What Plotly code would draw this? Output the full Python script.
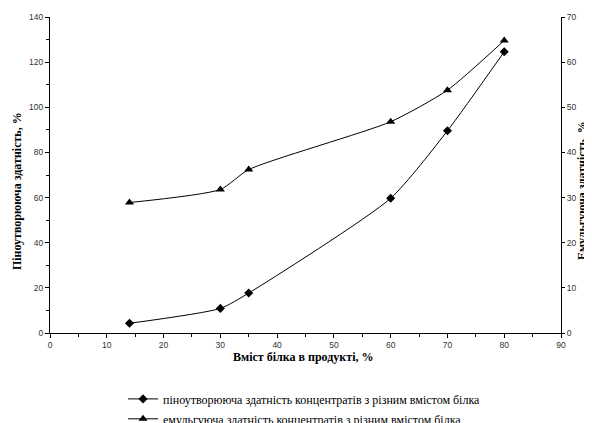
import plotly.graph_objects as go

protein = [14, 30, 35, 60, 70, 80]
foaming = [4.3, 10.9, 17.7, 59.7, 89.6, 124.6]
emulsifying = [28.9, 31.8, 36.2, 46.8, 53.8, 64.8]

name_foam = "піноутворююча здатність концентратів з різним вмістом білка"
name_emul = "емульгуюча здатність концентратів з різним вмістом білка"
title_x = "Вміст білка в продукті, %"
title_y1 = "Піноутворююча здатність, %"
title_y2 = "Емульгуюча здатність, %"

fig = go.Figure()
fig.add_trace(go.Scatter(
    x=protein, y=foaming, name=name_foam, mode="lines+markers",
    line=dict(color="black", width=1, shape="spline", smoothing=0.6),
    marker=dict(symbol="diamond", size=7, color="black"),
    yaxis="y", legend="legend"))
fig.add_trace(go.Scatter(
    x=protein, y=emulsifying, name=name_emul, mode="lines+markers",
    line=dict(color="black", width=1, shape="spline", smoothing=0.6),
    marker=dict(symbol="triangle-up", size=8, color="black"),
    yaxis="y2", legend="legend2"))

serif = "Liberation Serif, Times New Roman, serif"
tickfont = dict(family="Liberation Sans, Arial, sans-serif", size=8.5, color="#333")
titlefont = dict(family=serif, size=12, color="black")
legendfont = dict(family=serif, size=12, color="black")

# page body has an 8px margin, so the figure is 8px smaller and margins compensate
fig.update_layout(
    width=584, height=415,
    margin=dict(l=42, r=31, t=9, b=90, autoexpand=False),
    paper_bgcolor="white", plot_bgcolor="white",
    showlegend=True,
    legend=dict(x=0.197, xanchor="left", xref="container",
                y=0.093, yanchor="top", yref="container",
                font=legendfont, itemwidth=30, bgcolor="rgba(0,0,0,0)"),
    legend2=dict(x=0.197, xanchor="left", xref="container",
                 y=0.045, yanchor="top", yref="container",
                 font=legendfont, itemwidth=30, bgcolor="rgba(0,0,0,0)"),
    xaxis=dict(range=[0, 90], dtick=10, tick0=0, showgrid=False, zeroline=False,
               showline=True, linecolor="black", linewidth=1, automargin=False,
               ticks="outside", ticklen=4, tickcolor="black", tickfont=tickfont,
               minor=dict(ticks="outside", ticklen=3, dtick=5, tickcolor="black", showgrid=False)),
    yaxis=dict(range=[0, 140], dtick=20, showgrid=False, zeroline=False,
               showline=True, linecolor="black", linewidth=1, automargin=False,
               ticks="outside", ticklen=4, tickcolor="black", tickfont=tickfont,
               minor=dict(ticks="outside", ticklen=3, dtick=10, tickcolor="black", showgrid=False)),
    yaxis2=dict(range=[0, 70], dtick=10, overlaying="y", side="right", anchor="x",
                showgrid=False, zeroline=False, automargin=False,
                showline=True, linecolor="black", linewidth=1,
                ticks="outside", ticklen=3, tickcolor="black", tickfont=tickfont),
    annotations=[
        dict(text="<b>" + title_x + "</b>", font=titlefont,
             xref="paper", yref="paper", x=0.495, y=0, yshift=-24,
             showarrow=False, xanchor="center", yanchor="middle"),
        dict(text="<b>" + title_y1 + "</b>", font=titlefont,
             xref="paper", yref="paper", x=0, xshift=-33, y=0.449,
             textangle=-90, showarrow=False, xanchor="center", yanchor="middle"),
        dict(text="<b>" + title_y2 + "</b>", font=titlefont,
             xref="paper", yref="paper", x=1.0, xshift=21, y=0.449,
             textangle=-90, showarrow=False, xanchor="center", yanchor="middle"),
    ],
)

fig.write_html("out.html")
